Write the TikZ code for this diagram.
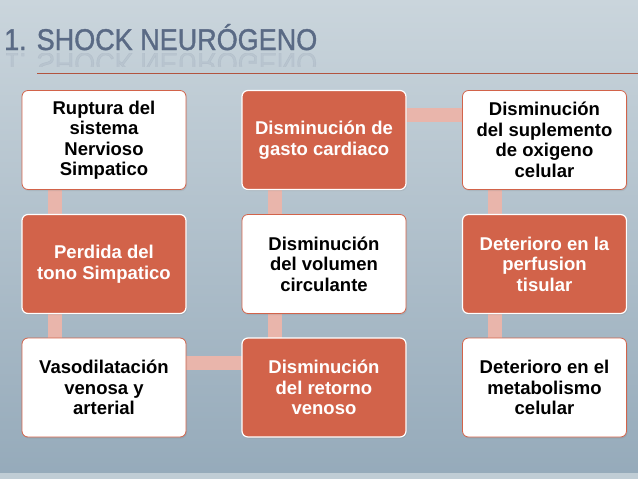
\documentclass[tikz,border=0pt]{standalone}
\usepackage{fontspec}
\setmainfont{Liberation Sans}
\newfontfamily\titlefont[FakeStretch=0.9,FakeBold=1.2]{Liberation Sans}
\usetikzlibrary{shadows,backgrounds}
\definecolor{bgtop}{HTML}{CAD5DC}
\definecolor{bgbot}{HTML}{95AABA}
\definecolor{boxred}{HTML}{D2634A}
\definecolor{linkpink}{HTML}{E9B5AB}
\definecolor{slate}{HTML}{5A6A85}
\begin{document}
\begin{tikzpicture}[x=1pt,y=-1pt,
  step box/.style={rounded corners=6pt,minimum width=164pt,minimum height=99pt,
    align=center,font=\bfseries\fontsize{18.5}{20.5}\selectfont,
    drop shadow={shadow xshift=1pt,shadow yshift=-1.5pt,opacity=.2}},
  plain box/.style={step box,fill=white,draw=boxred,line width=.8pt,text=black},
  red box/.style={step box,fill=boxred,draw=white,line width=1.2pt,text=white},
  link/.style={linkpink,line width=14pt}]
% background
\begin{scope}[on background layer]
\shade[top color=bgtop,bottom color=bgbot] (0,0) rectangle (638,479);
\fill[bgtop!80!bgbot] (0,473) rectangle (638,479);
\end{scope}
\useasboundingbox (0,0) rectangle (638,479);
% title
\node[anchor=base west,inner sep=0pt,text=slate,font=\titlefont\fontsize{30}{30}\selectfont] (title) at (4,50) {1. SHOCK NEURÓGENO};
\begin{scope}
\clip (0,53) rectangle (638,66);
\node[anchor=base west,inner sep=0pt,text=slate,opacity=.1,yscale=-1,transform shape,
  font=\titlefont\fontsize{30}{30}\selectfont] at (4,53) {1. SHOCK NEURÓGENO};
\end{scope}
\coordinate (rule) at (37,73);
\draw[boxred!85!black,line width=.8pt] (rule) -- (638,73);
% boxes
\node[plain box] (a1) at (104,140) {Ruptura del\\sistema\\Nervioso\\Simpatico};
\node[red box] (a2) at (104,264) {Perdida del\\tono Simpatico};
\node[plain box] (a3) at (104,387.5) {Vasodilatación\\venosa y\\arterial};
\node[red box] (b3) at (324,387.5) {Disminución\\del retorno\\venoso};
\node[plain box] (b2) at (324,264) {Disminución\\del volumen\\circulante};
\node[red box] (b1) at (324,140) {Disminución de\\gasto cardiaco};
\node[plain box] (c1) at (544.5,140) {Disminución\\del suplemento\\de oxigeno\\celular};
\node[red box] (c2) at (544.5,264) {Deterioro en la\\perfusion\\tisular};
\node[plain box] (c3) at (544.5,387.5) {Deterioro en el\\metabolismo\\celular};
% connectors behind the boxes
\begin{scope}[on background layer]
\draw[link] ([xshift=-49pt]a1.center) -- ([xshift=-49pt]a3.center);
\draw[link] ([yshift=24.5pt]a3.center) -- ([yshift=24.5pt]b3.center);
\draw[link] ([xshift=-49pt]b3.center) -- ([xshift=-49pt]b1.center);
\draw[link] ([yshift=25pt]b1.center) -- ([yshift=25pt]c1.center);
\draw[link] ([xshift=-49.5pt]c1.center) -- ([xshift=-49.5pt]c3.center);
\end{scope}
\end{tikzpicture}
\end{document}
